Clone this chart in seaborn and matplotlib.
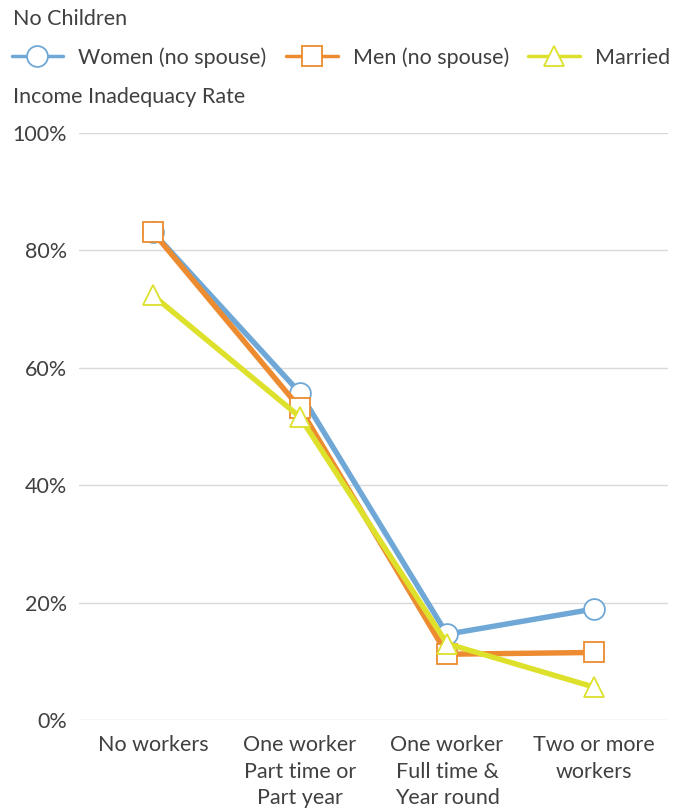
import numpy as np
import pandas as pd
import seaborn as sns
import matplotlib.pyplot as plt
from matplotlib.ticker import PercentFormatter

# chart values (percent)
categories = ["No workers", "One worker\nPart time or\nPart year",
              "One worker\nFull time &\nYear round", "Two or more\nworkers"]
series_names = ["Women (no spouse)", "Men (no spouse)", "Married"]
women = [83.1, 55.7, 14.6, 18.9]
men = [83.1, 53.1, 11.2, 11.5]
married = [72.3, 51.6, 13.0, 5.6]
y_ticks = [0, 20, 40, 60, 80, 100]

colors = ["#6FA8D6", "#EC8B2F", "#DDE12B"]
marker_list = ["o", "s", "^"]
TEXT = "#404040"
FS = 15.5

df = pd.DataFrame({
    "category": categories * 3,
    "pos": list(range(4)) * 3,
    "series": [series_names[0]] * 4 + [series_names[1]] * 4 + [series_names[2]] * 4,
    "rate": women + men + married,
})

sns.set_theme(style="white")
plt.rcParams['font.family'] = ['Lato', 'DejaVu Sans']
plt.rcParams['text.color'] = TEXT

fig = plt.figure(figsize=(6.84, 8.09), dpi=100)
ax = fig.add_axes([0.116, 0.110, 0.86, 0.726])

sns.lineplot(data=df, x="pos", y="rate", hue="series", style="series",
             palette=colors, markers=marker_list, dashes=False,
             hue_order=series_names, style_order=series_names,
             linewidth=3.9, markersize=15, legend=False, ax=ax)

for line, c in zip(ax.lines, colors):
    line.set_markerfacecolor("white")
    line.set_markeredgecolor(c)
    line.set_markeredgewidth(1.3)

ax.set_xlim(-0.5, 3.5)
ax.set_ylim(0, 100)
ax.set_yticks(y_ticks)
ax.yaxis.set_major_formatter(PercentFormatter(decimals=0))
ax.set_xticks(range(4))
ax.set_xticklabels(categories, linespacing=1.4)
ax.set_xlabel("")
ax.set_ylabel("")
ax.tick_params(axis="both", length=0, labelsize=FS, colors=TEXT)
ax.tick_params(axis="y", pad=9)
ax.tick_params(axis="x", pad=11)
ax.grid(axis="y", color="#D9D9D9", linewidth=1)
ax.set_axisbelow(True)
sns.despine(ax=ax, left=True, bottom=True)

fig.text(0.019, 0.977, "No Children", fontsize=FS, va="center", ha="left")
fig.text(0.019, 0.880, "Income Inadequacy Rate", fontsize=FS, va="center", ha="left")

leg = fig.legend(handles=ax.lines, labels=series_names, loc="center left",
                 bbox_to_anchor=(0.017, 0.929), ncol=3, frameon=False,
                 fontsize=FS, handlelength=2.4, handletextpad=0.7,
                 columnspacing=0.9, borderpad=0, borderaxespad=0)
for h in leg.legend_handles:
    h.set_linewidth(2.5)

fig.savefig("out.png", dpi=100, facecolor="white")
